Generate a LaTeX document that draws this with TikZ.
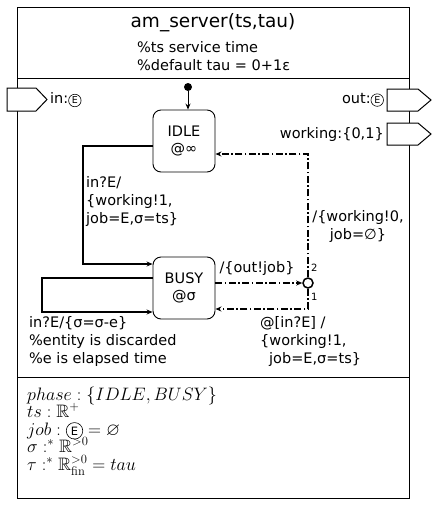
\documentclass[tikz,border=0pt]{standalone}
\usepackage{fix-cm}
\usepackage{amssymb}
\usepackage[no-math]{fontspec}
\setmainfont{DejaVu Sans}
\newfontfamily\dvs{DejaVu Sans}
\usetikzlibrary{arrows.meta}
\newcommand{\circE}[3]{\tikz[baseline=(ce.base)]\node[draw, circle, line width=0.6pt, minimum size=#2, inner sep=0pt, font=\dvs\fontsize{#1}{#1}\selectfont, yshift=#3] (ce) {E};}
\tikzset{
  body/.style={font=\fontsize{14.5}{18}\selectfont, inner sep=0pt},
  small/.style={font=\fontsize{10}{12}\selectfont, inner sep=0pt},
  mathline/.style={font=\fontsize{18}{20}\selectfont, inner sep=0pt, anchor=base west},
  statebox/.style={draw, line width=0.9pt, rounded corners=8pt, minimum width=62pt, minimum height=62pt, align=center, font=\fontsize{14.5}{17}\selectfont, inner sep=0pt},
  tip/.style={-{Stealth[length=6pt,width=5pt]}},
  tr/.style={line width=1.2pt, tip},
  dd/.style={line width=1.2pt, tip, dash pattern=on 7pt off 2.5pt on 1.5pt off 2.5pt},
  portshape/.style={draw, line width=1pt, fill=white},
}
\begin{document}
\begin{tikzpicture}[x=1pt,y=-1pt]
\useasboundingbox (0,0) rectangle (437,512);
% outer box and compartments
\draw[line width=1pt] (17,7) rectangle (409,498);
\draw[line width=1pt] (17,78) -- (409,78);
\draw[line width=1pt] (17,377) -- (409,377);
% header
\node[font=\fontsize{18.5}{22}\selectfont, inner sep=0pt] (title) at (213,23) {am\_server(ts,tau)};
\node[body, anchor=west, align=left] (cmt) at (137,56) {\%ts service time\\\%default tau = 0+1ε};
% ports
\draw[portshape] (7,88) -- (36,88) -- (47,99.5) -- (36,111) -- (7,111) -- cycle;
\node[body, anchor=west] (inlbl) at (50,100) {in:\circE{9.5}{12.5pt}{0pt}};
\draw[portshape] (387,89) -- (418,89) -- (431,100) -- (418,111) -- (387,111) -- cycle;
\node[body, anchor=east] (outlbl) at (384,100) {out:\circE{9.5}{12.5pt}{0pt}};
\draw[portshape] (387,123) -- (418,123) -- (431,134) -- (418,145) -- (387,145) -- cycle;
\node[body, anchor=east] (wlbl) at (384,134) {working:\{0,1\}};
% states
\node[statebox] (IDLE) at (184,141) {IDLE\\@∞};
\node[statebox] (BUSY) at (184,288) {BUSY\\@σ};
\node[circle, fill, inner sep=0pt, minimum size=8pt] (init) at (188,87) {};
\draw[line width=0.9pt, tip] (init) -- (init |- IDLE.north);
% IDLE -> BUSY
\coordinate (c1) at (83,146);
\coordinate (c2) at (83,264);
\draw[tr] (IDLE.west |- c1) -- (c1) -- (c2) -- (BUSY.west |- c2);
\node[body, anchor=west, align=left] (l1) at (86,201) {in?E/\\\{working!1,\\job=E,σ=ts\}};
% self loop
\coordinate (s1) at (42,278);
\coordinate (s2) at (42,312);
\draw[tr] (BUSY.west |- s1) -- (s1) -- (s2) -- (BUSY.west |- s2);
\node[body, anchor=west, align=left] (l2) at (29,341) {in?E/\{σ=σ-e\}\\\%entity is discarded\\\%e is elapsed time};
% junction
\node[circle, draw, line width=1.5pt, minimum size=10pt, inner sep=0pt, fill=white] (j) at (308,283) {};
\draw[dd] (BUSY.east |- j) -- (j);
\node[body, anchor=center] (l3) at (257,268) {/\{out!job\}};
\coordinate (u) at (308,154);
\draw[dd] (j.north) -- (u) -- (IDLE.east |- u);
\node[small, anchor=west] (n2) at (311,268) {2};
\node[body, align=center] (l4) at (358,226) {/\{working!0,\\job=∅\}};
\coordinate (d) at (308,309);
\draw[dd] (j.south) -- (d) -- (BUSY.east |- d);
\node[small, anchor=west] (n1) at (311,297) {1};
\node[body, anchor=west, align=left] (l5) at (260,341) {@[in?E] /\\\{working!1,\\\hspace*{9pt}job=E,σ=ts\}};
% variables
\node[mathline] (v1) at (27,400) {$phase: \{IDLE,BUSY\}$};
\node[mathline] (v2) at (27,417.5) {$ts: \mathbb{R}^{+}$};
\node[mathline] (v3) at (27,435) {$job: \mbox{\circE{11.5}{16.5pt}{0pt}} = \varnothing$};
\node[mathline] (v4) at (27,452.5) {$\sigma :^{*} \mathbb{R}^{>0}$};
\node[mathline] (v5) at (27,470) {$\tau :^{*} \mathbb{R}^{>0}_{\mathrm{fin}} = tau$};
\end{tikzpicture}
\end{document}
